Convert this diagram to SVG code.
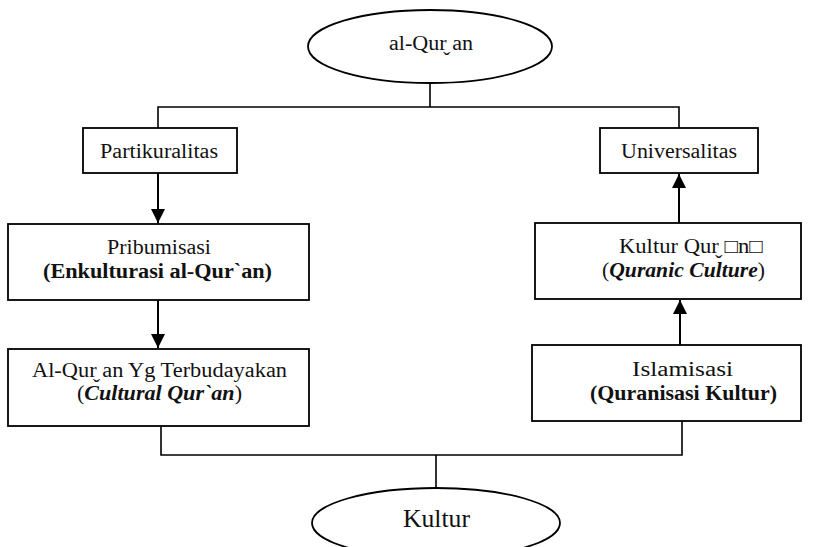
<svg xmlns="http://www.w3.org/2000/svg" width="830" height="547" viewBox="0 0 830 547">
<style>
.box{fill:#fff;stroke:#000;stroke-width:1.8}
.ell{fill:#fff;stroke:#000;stroke-width:1.8}
.t{font-family:"Liberation Serif","Times New Roman",serif;font-size:20.5px;fill:#111;text-anchor:middle}
.b{font-weight:bold}
.bi{font-weight:bold;font-style:italic}
.ln{fill:none;stroke:#000;stroke-width:1.6}
.ar{fill:none;stroke:#000;stroke-width:2}
</style>
<defs>
<marker id="ah" markerUnits="userSpaceOnUse" markerWidth="14" markerHeight="16" viewBox="0 0 14 16" refX="14" refY="7" orient="auto">
<path d="M0,0 L14,7 L0,14 Z" fill="#000"/>
</marker>
</defs>
<g id="connectors">
<path class="ln" d="M430,83 V107 M158,128 V107 H679 V128"/>
<path class="ar" d="M158,173 V223" marker-end="url(#ah)"/>
<path class="ar" d="M158,300 V348" marker-end="url(#ah)"/>
<path class="ar" d="M680,345 V300" marker-end="url(#ah)"/>
<path class="ar" d="M679,223 V174" marker-end="url(#ah)"/>
<path class="ln" d="M161,426 V455 H682 V421 M436,455 V488"/>
</g>
<g id="alquran">
<ellipse class="ell" cx="430" cy="46.5" rx="122" ry="36.5"/>
<text class="t" x="431" y="50" textLength="84" lengthAdjust="spacingAndGlyphs">al-Qur̬ an</text>
</g>
<g id="partikuralitas">
<rect class="box" x="83" y="128" width="154" height="45"/>
<text class="t" x="159" y="158" textLength="118" lengthAdjust="spacingAndGlyphs">Partikuralitas</text>
</g>
<g id="universalitas">
<rect class="box" x="600" y="128" width="158" height="45"/>
<text class="t" x="679" y="158" textLength="116" lengthAdjust="spacingAndGlyphs">Universalitas</text>
</g>
<g id="pribumisasi">
<rect class="box" x="8" y="224" width="301" height="76"/>
<text class="t" x="159" y="254" textLength="104" lengthAdjust="spacingAndGlyphs">Pribumisasi</text>
<text class="t b" x="157.5" y="278" textLength="229" lengthAdjust="spacingAndGlyphs">(Enkulturasi al-Qur`an)</text>
</g>
<g id="terbudayakan">
<rect class="box" x="8" y="349" width="301" height="77"/>
<text class="t" x="159.5" y="377" textLength="255" lengthAdjust="spacingAndGlyphs">Al-Qur̬ an Yg Terbudayakan</text>
<text class="t" x="159.5" y="400" textLength="165" lengthAdjust="spacingAndGlyphs">(<tspan class="bi">Cultural Qur`an</tspan>)</text>
</g>
<g id="kulturquran">
<rect class="box" x="535" y="223" width="266" height="76"/>
<text class="t" x="691" y="253" textLength="144" lengthAdjust="spacingAndGlyphs">Kultur Qur̬ □n□</text>
<text class="t" x="683.5" y="277" textLength="163" lengthAdjust="spacingAndGlyphs">(<tspan class="bi">Quranic Culture</tspan>)</text>
</g>
<g id="islamisasi">
<rect class="box" x="532" y="345" width="269" height="76"/>
<text class="t" x="682.5" y="376" textLength="101" lengthAdjust="spacingAndGlyphs">Islamisasi</text>
<text class="t b" x="683.5" y="400" textLength="187" lengthAdjust="spacingAndGlyphs">(Quranisasi Kultur)</text>
</g>
<g id="kultur">
<ellipse class="ell" cx="436" cy="523" rx="124" ry="35"/>
<text class="t" x="436.5" y="527" style="font-size:25px" textLength="67" lengthAdjust="spacingAndGlyphs">Kultur</text>
</g>
</svg>
